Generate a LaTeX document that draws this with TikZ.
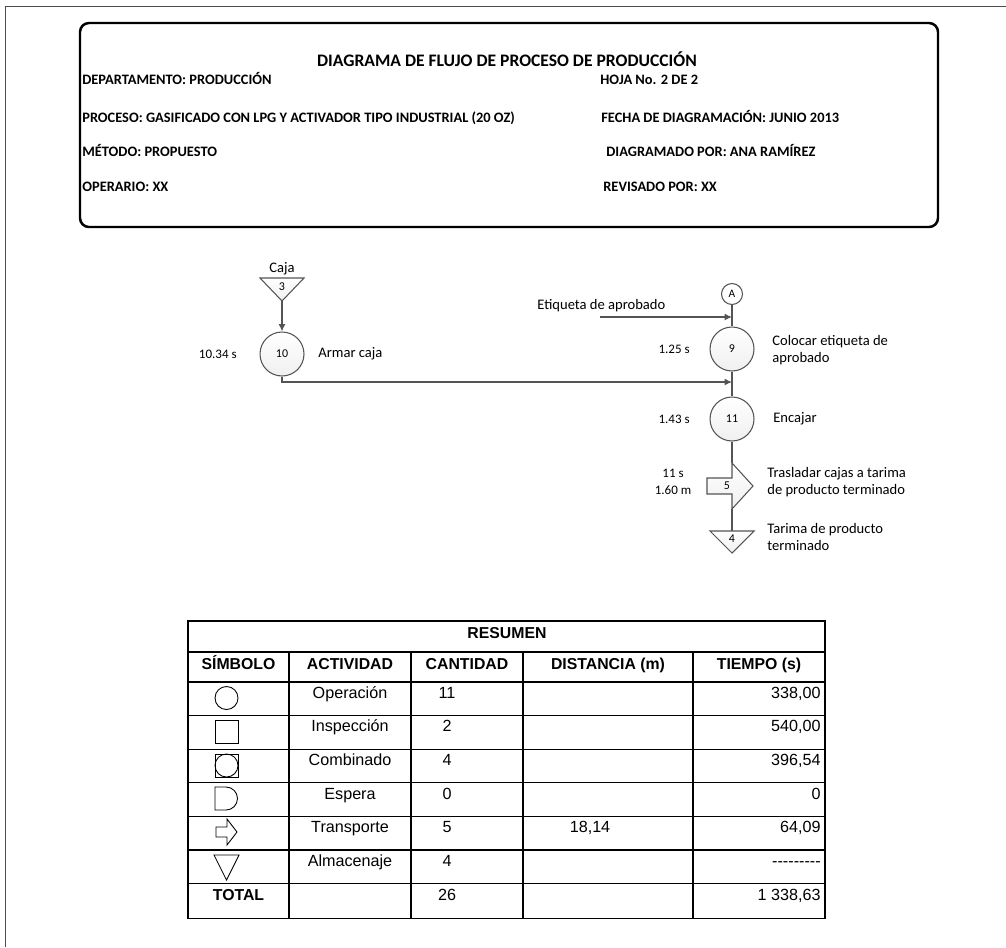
\documentclass[tikz,border=0pt]{standalone}
\usepackage{fontspec}
\setmainfont{Carlito}
\newfontfamily\arialfont{Liberation Sans}
\usetikzlibrary{arrows.meta,calc,positioning}
\definecolor{darkline}{rgb}{0.33,0.33,0.33}

\tikzset{
  flow/.style={draw=darkline,line width=0.75pt},
  flowarrow/.style={flow,-{Latex[length=4.2pt,width=4pt]}},
  opcircle/.style={circle,draw=darkline,line width=0.6pt,top color=white,bottom color=gray!12,
    minimum size=0.88cm,inner sep=0pt,font=\fontsize{6.8}{8}\selectfont},
  symshade/.style={draw=darkline,line width=0.6pt,top color=white,bottom color=gray!12},
  steplabel/.style={inner sep=0pt,anchor=west,align=left,font=\fontsize{8.3}{9.8}\selectfont},
  timelabel/.style={inner sep=0pt,align=center,font=\fontsize{7.4}{9.6}\selectfont},
  numlabel/.style={inner sep=0pt,font=\fontsize{6.8}{8}\selectfont},
  headline/.style={inner sep=0pt,anchor=west,text height=6pt,text depth=1.6pt,
    font=\bfseries\fontsize{8.2}{10}\selectfont},
  cell/.style={inner sep=0pt,text height=6.8pt,text depth=2pt,font=\arialfont\fontsize{9.2}{11}\selectfont},
  headcell/.style={inner sep=0pt,text height=6.8pt,text depth=2pt,font=\arialfont\bfseries\fontsize{9}{11}\selectfont},
  tline/.style={draw=black,line width=0.75pt},
  tsym/.style={draw=black,line width=0.5pt}
}

\begin{document}
\begin{tikzpicture}[x=0.02cm,y=-0.02cm]
        \useasboundingbox (0,0) rectangle (1006,947);
        %Frame
        \draw[gray!60!black,line width=0.5pt] (5,947) -- (5,6.5) -- (1006,6.5);
        \draw[line width=1.4pt,rounded corners=0.18cm] (80,23) rectangle (938,227);

        %Header
        \node[inner sep=0pt,text height=7.5pt,text depth=2pt,font=\bfseries\fontsize{10}{12}\selectfont] (title) at (507,62) {DIAGRAMA DE FLUJO DE PROCESO DE PRODUCCIÓN};
        \node[headline] (dep) at (82,81) {DEPARTAMENTO: PRODUCCIÓN};
        \node[headline] (proc) at (82,119) {PROCESO: GASIFICADO CON LPG Y ACTIVADOR TIPO INDUSTRIAL (20 OZ)};
        \node[headline] (met) at (82,153) {MÉTODO: PROPUESTO};
        \node[headline] (oper) at (82,188) {OPERARIO: XX};
        \node[headline] (hoja) at (600,81) {HOJA No. 2 DE 2};
        \node[headline] (fecha) at (601,119) {FECHA DE DIAGRAMACIÓN: JUNIO 2013};
        \node[headline] (diag) at (606,153) {DIAGRAMADO POR: ANA RAMÍREZ};
        \node[headline] (rev) at (603,188) {REVISADO POR: XX};

        %Left branch
        \draw[symshade] (260,278) -- (304,278) -- (282,301) -- cycle;
        \coordinate (s3tip) at (282,301);
        \node[numlabel] (n3) at (282,287) {3};
        \node[inner sep=0pt,font=\fontsize{8.3}{9.8}\selectfont] (caja) at (282,269) {Caja};
        \node[opcircle] (o10) at (282,354) {10};
        \node[timelabel,anchor=east] (t10) at (237,354) {10.34 s};
        \node[steplabel] (l10) at (318,354) {Armar caja};
        \draw[flowarrow] (s3tip) -- (o10);

        %Right branch
        \node[circle,draw=darkline,line width=0.6pt,fill=white,minimum size=0.42cm,inner sep=0pt,
          font=\fontsize{6.5}{8}\selectfont] (cA) at (732,294) {A};
        \node[opcircle] (o9) at (732,349) {9};
        \node[opcircle] (o11) at (732,419) {11};
        \coordinate (etStart) at (600,317);
        \coordinate (etEnd) at (732,317);
        \coordinate (join) at (732,382);
        \node[steplabel] (et) at (537,306) {Etiqueta de aprobado};
        \node[timelabel,anchor=east] (t9) at (690,349) {1.25 s};
        \node[steplabel] (l9) at (772,350) {Colocar etiqueta de\\aprobado};
        \node[timelabel,anchor=east] (t11) at (690,419) {1.43 s};
        \node[steplabel] (l11) at (773,419) {Encajar};

        %Transport and storage
        \draw[symshade] (707,478) -- (732,478) -- (732,463) -- (753,486) -- (732,509) -- (732,494) -- (707,494) -- cycle;
        \coordinate (tr5top) at (732,463);
        \coordinate (tr5bot) at (732,509);
        \node[numlabel] (n5) at (727,486) {5};
        \node[timelabel] (t5) at (673,482) {11 s\\1.60 m};
        \node[steplabel] (l5) at (767,482) {Trasladar cajas a tarima\\de producto terminado};
        \draw[symshade] (710,531) -- (754,531) -- (732,553) -- cycle;
        \coordinate (s4top) at (732,531);
        \node[numlabel] (n4) at (732,539) {4};
        \node[steplabel] (l4) at (767,537) {Tarima de producto\\terminado};

        %Draw edges
        \draw[flow] (cA) -- (o9);
        \draw[flow] (o9) -- (o11);
        \draw[flowarrow] (etStart) -- (etEnd);
        \draw[flowarrow] (o10.south) |- (join);
        \draw[flow] (o11) -- (tr5top);
        \draw[flow] (tr5bot) -- (s4top);

        %Table lines
        \draw[tline] (188,621) rectangle (825,918.5);
        \draw[tline] (188,652) -- (825,652);
        \foreach \y in {682,715.6,749.2,782.8,816.4,850,883.6}
          \draw[tline] (188,\y) -- (825,\y);
        \foreach \x in {289,411,523,693}
          \draw[tline] (\x,652) -- (\x,918.5);

        %Table text
        \node[headcell] (res) at (507,634) {RESUMEN};
        \node[headcell] (hsym) at (238.5,665) {SÍMBOLO};
        \node[headcell] (hact) at (350,665) {ACTIVIDAD};
        \node[headcell] (hcant) at (467,665) {CANTIDAD};
        \node[headcell] (hdist) at (608,665) {DISTANCIA (m)};
        \node[headcell] (htime) at (759,665) {TIEMPO (s)};
        \foreach \act/\qty/\dist/\tim [count=\r from 0] in {Operación/11//{338,00},Inspección/2//{540,00},
            Combinado/4//{396,54},Espera/0//0,Transporte/5/{18,14}/{64,09},Almacenaje/4//---------}{
          \pgfmathsetmacro\ty{682+33.6*\r+12}
          \node[cell] (act\r) at (350,\ty) {\act};
          \node[cell] (qty\r) at (447,\ty) {\qty};
          \node[cell] (dist\r) at (590,\ty) {\dist};
          \node[cell,anchor=east] (tim\r) at (821,\ty) {\tim};
        }
        \node[headcell] (tot) at (238.5,896) {TOTAL};
        \node[cell] (totqty) at (447,896) {26};
        \node[cell,anchor=east] (tottim) at (821,896) {1 338,63};

        %Table symbols
        \draw[tsym] (226.5,698) circle (0.23cm);
        \draw[tsym] (215,720) rectangle (238,743);
        \draw[tsym] (215,754) rectangle (238,777);
        \draw[tsym] (226.5,765.5) circle (0.23cm);
        \draw[tsym] (215,787) -- (226,787) arc[start angle=90,end angle=-90,radius=0.23cm] -- (215,810) -- cycle;
        \draw[tsym] (216,827) -- (227,827) -- (227,819) -- (237,832) -- (227,845) -- (227,837) -- (216,837) -- cycle;
        \draw[tsym] (214,855) -- (239,855) -- (226.5,880) -- cycle;
      \end{tikzpicture}
\end{document}
